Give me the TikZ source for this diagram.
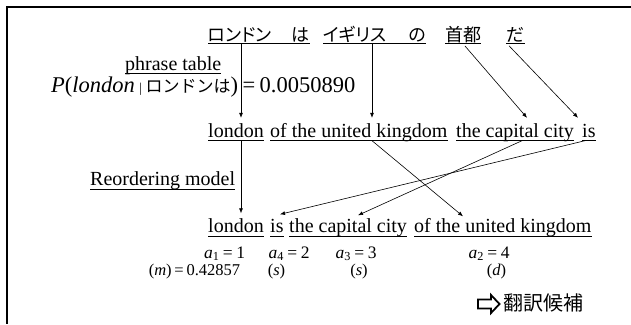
\documentclass[tikz,border=0pt]{standalone}
\usepackage{fontspec}
\setmainfont{Liberation Serif}
\newfontfamily\cjk{Noto Sans CJK JP}
\newfontfamily\cjkp[RawFeature=+palt]{Noto Sans CJK JP}
\usetikzlibrary{arrows.meta,calc}
\begin{document}
\begin{tikzpicture}[x=1pt,y=-1pt,
  every node/.style={inner sep=0pt},
  en/.style={font=\fontsize{20}{20}\selectfont, anchor=base west, text height=19pt, text depth=3.5pt},
  jp/.style={font=\cjkp\fontsize{18}{18}\selectfont, anchor=base west, text height=14pt, text depth=2.5pt},
  lab/.style={font=\fontsize{17.5}{17.5}\selectfont, anchor=base, text height=11pt, text depth=2pt},
  sml/.style={font=\fontsize{16.5}{16.5}\selectfont, anchor=base, text height=11pt, text depth=3pt},
  ul/.style={line width=0.8pt},
  arr/.style={-{Latex[length=5pt,width=4pt]}, line width=0.6pt},
  frame/.style={line width=1.6pt}
]
\useasboundingbox (0,0) rectangle (631,324);
\draw[frame] (631,7) -- (7,7) -- (7,324);

% top row (Japanese)
\node[jp] (jp1) at (208,41) {ロンドン\hspace{1.1em}は};
\node[jp] (jp2) at (323,41) {イギリス\hspace{1.2em}の};
\node[jp] (jp3) at (445,41) {首都};
\node[jp] (jp4) at (506,41) {だ};
\foreach \n in {jp1,jp2,jp3,jp4} \draw[ul] (\n.south west) -- (\n.south east);

% phrase table
\node[en, text height=14pt] (pt) at (125,70) {phrase table};
\draw[ul] (pt.south west) -- (pt.south east);
\node[font=\fontsize{22.5}{22.5}\selectfont, anchor=base west] (prob) at (51,92.5)
  {\textit{P}(\textit{london}\hspace{0.2em}\raisebox{0.5pt}{\scalebox{0.6}{|}}\hspace{0.15em}{\cjk\fontsize{17}{17}\selectfont ロンドンは})\hspace{0.2em}=\hspace{0.2em}0.0050890};

% middle row
\node[en] (m1) at (208,137) {london};
\node[en] (m2) at (270,137) {of the united kingdom};
\node[en] (m3) at (456,137) {the capital city};
\node[en] (m4) at (582,137) {is};
\foreach \n in {m1,m2,m3,m4} \draw[ul] (\n.south west) -- (\n.south east);

% reordering model
\node[en, text height=14pt] (rm) at (90,185.5) {Reordering model};
\draw[ul] (rm.south west) -- (rm.south east);

% bottom row
\node[en] (b1) at (208,232.5) {london};
\node[en] (b2) at (270,232.5) {is};
\node[en] (b3) at (289,232.5) {the capital city};
\node[en] (b4) at (414,232.5) {of the united kingdom};
\foreach \n in {b1,b2,b3,b4} \draw[ul] (\n.south west) -- (\n.south east);

% arrows top -> middle
\draw[arr] (jp1.south -| 241,0) -- (m1.north -| 241,0);
\draw[arr] (jp2.south -| 372,0) -- (m2.north -| 372,0);
\draw[arr, shorten <=3pt] (jp3.south -| 463,0) -- (m3.north -| 527,0);
\draw[arr, shorten <=3pt] (jp4.south -| 507,0) -- (m4.north -| 578,0);

% arrows middle -> bottom
\draw[arr] (m1.south -| 241,0) -- (b1.north -| 241,0);
\draw[arr] (m2.south -| 372,0) -- ([yshift=-3pt]b4.north -| 463,0);
\draw[arr] (m3.south -| 522,0) -- ([yshift=-2pt]b3.north -| 358,0);
\draw[arr] (m4.south -| 585,0) -- ([yshift=-1pt]b2.north -| 280,0);

% alignment labels
\node[lab] (a1) at (224.5,258) {\textit{a}\textsubscript{1}\hspace{0.2em}=\hspace{0.2em}1};
\node[lab] (a4) at (289,258) {\textit{a}\textsubscript{4}\hspace{0.2em}=\hspace{0.2em}2};
\node[lab] (a3) at (356,258) {\textit{a}\textsubscript{3}\hspace{0.2em}=\hspace{0.2em}3};
\node[lab] (a2) at (489,258) {\textit{a}\textsubscript{2}\hspace{0.2em}=\hspace{0.2em}4};
\node[sml] (o1) at (194.5,275.5) {(\textit{m})\,=\,0.42857};
\node[sml] (o2) at (276.5,275.5) {(\textit{s})};
\node[sml] (o3) at (359,275.5) {(\textit{s})};
\node[sml] (o4) at (496.5,275.5) {(\textit{d})};

% candidate
\draw[line width=1.8pt, line join=miter] (478,299.5) -- (491,299.5) -- (491,295) -- (499.5,304) -- (491,313) -- (491,308.5) -- (478,308.5) -- cycle;
\node[font=\cjk\fontsize{20}{20}\selectfont, anchor=west] (cand) at (503,303) {翻訳候補};
\end{tikzpicture}
\end{document}
